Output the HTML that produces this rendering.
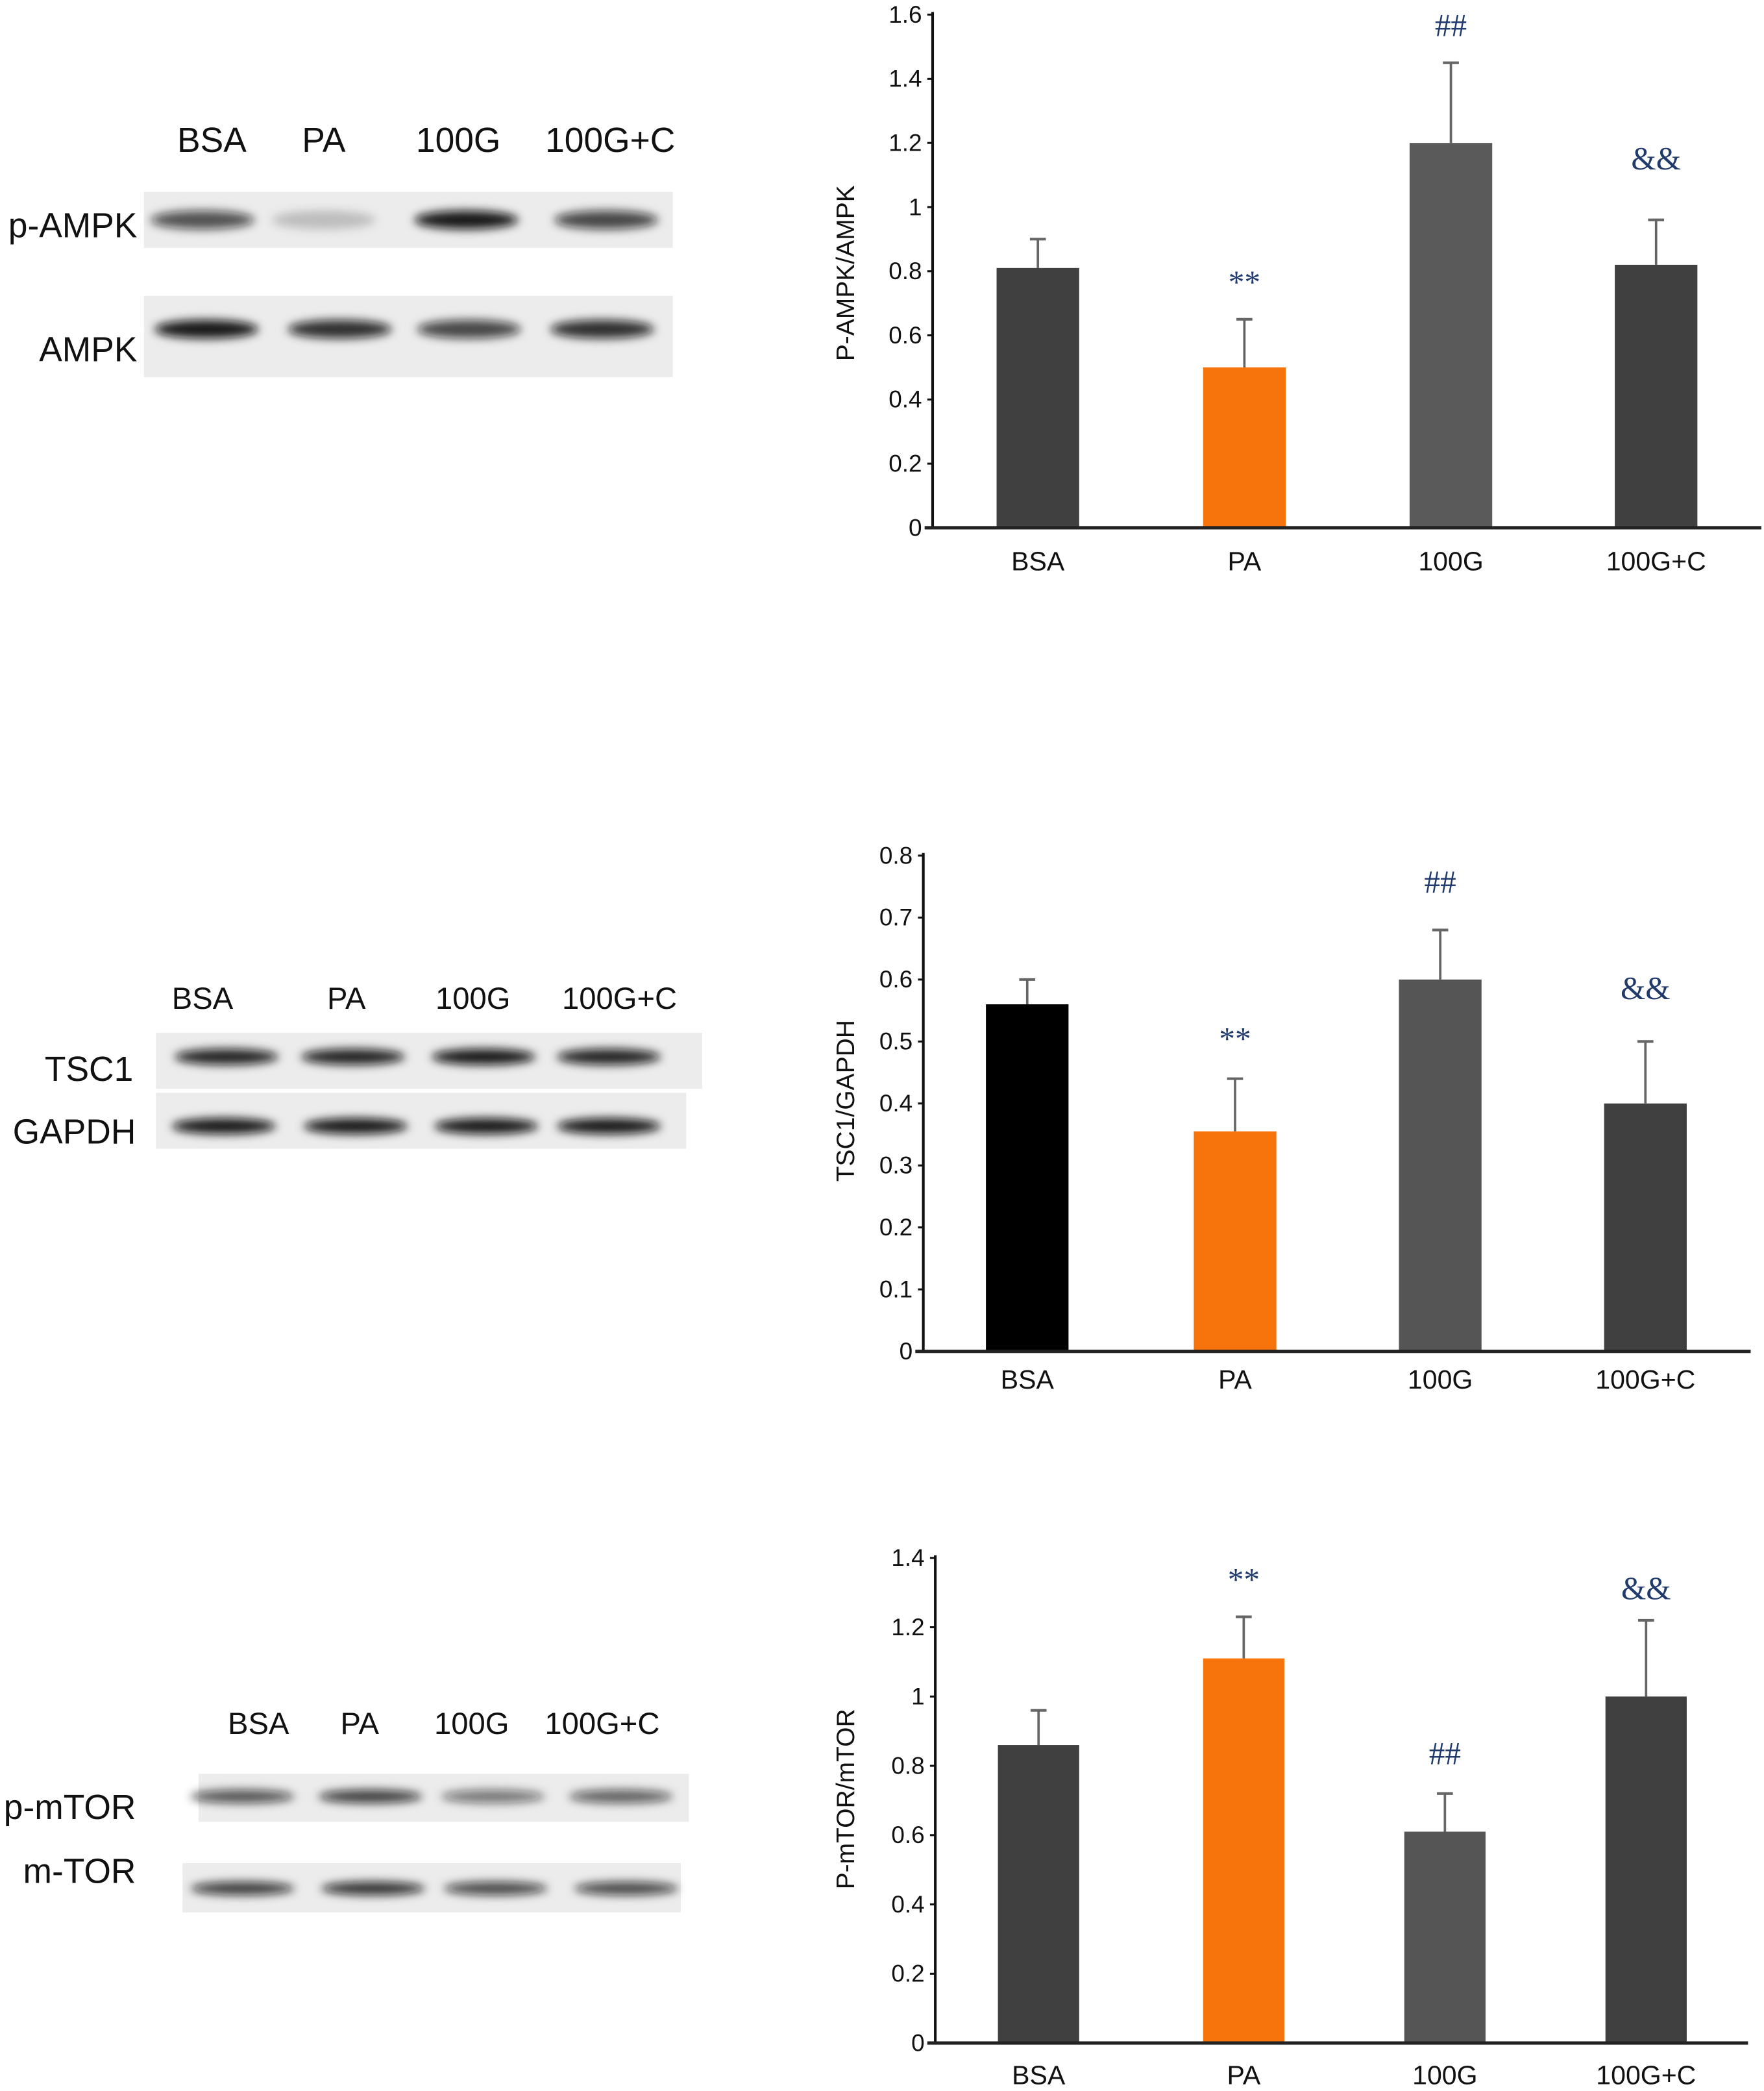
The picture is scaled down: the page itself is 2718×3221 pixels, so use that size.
<!DOCTYPE html>
<html><head><meta charset="utf-8"><style>
html,body{margin:0;padding:0;background:#fff;}
svg{display:block;}
text{font-family:"Liberation Sans",sans-serif;}
.tick{font-family:"Liberation Sans Narrow","Liberation Sans",sans-serif;font-size:18px;fill:#111;}
.cat{font-family:"Liberation Sans Narrow","Liberation Sans",sans-serif;font-size:20px;fill:#111;}
.ann{font-size:24px;fill:#1f3a6b;font-family:"Liberation Serif",serif;}
.blab{font-size:26px;fill:#111;}
</style></head><body>
<svg id="fig" width="2718" height="3221" viewBox="0 0 1324 1569" preserveAspectRatio="none" xmlns="http://www.w3.org/2000/svg">
<defs><filter id="blur" x="-20%" y="-100%" width="140%" height="300%"><feGaussianBlur stdDeviation="3.5"/></filter></defs>
<rect width="1324" height="1569" fill="#fff"/>
<g id="blots"></g>
<g id="charts"></g>
</svg>
<script>
const NS="http://www.w3.org/2000/svg";
const categories=["BSA","PA","100G","100G+C"];
const c1Values=[0.81,0.50,1.20,0.82];
const c1Errors=[0.90,0.65,1.45,0.96];
const c1Ticks=[0,0.2,0.4,0.6,0.8,1,1.2,1.4,1.6];
const c1Ann=["","**","##","&&"];
const c2Values=[0.56,0.355,0.60,0.40];
const c2Errors=[0.60,0.44,0.68,0.50];
const c2Ticks=[0,0.1,0.2,0.3,0.4,0.5,0.6,0.7,0.8];
const c2Ann=["","**","##","&&"];
const c3Values=[0.86,1.11,0.61,1.00];
const c3Errors=[0.96,1.23,0.72,1.22];
const c3Ticks=[0,0.2,0.4,0.6,0.8,1,1.2,1.4];
const c3Ann=["","**","##","&&"];

function el(tag,attrs,parent,txt){const e=document.createElementNS(NS,tag);for(const k in attrs)e.setAttribute(k,attrs[k]);if(txt!==undefined)e.textContent=txt;parent.appendChild(e);return e;}

function chart(cfg){
  const g=el('g',{},document.getElementById('charts'));
  
  
  const max=cfg.ticks[cfg.ticks.length-1];
  const y=v=>cfg.y0-(cfg.y0-cfg.yTop)*v/max;
  cfg.ticks.forEach(t=>{
    const tk=el('line',{x1:cfg.ax-4,x2:cfg.ax,y1:y(t),y2:y(t),stroke:'#111','stroke-width':1.5},g);
    
    
    const lb=el('text',{x:cfg.ax-8,y:y(t)+6,'text-anchor':'end',class:'tick'},g,String(t));
    
    
  });
  cfg.values.forEach((v,i)=>{
    const x=cfg.bx[i];
    const b=el('rect',{x:x,y:y(v),width:cfg.bw,height:cfg.y0-y(v),fill:cfg.colors[i]},g);
    
    
    const cx=x+cfg.bw/2;
    const e1=el('line',{x1:cx,x2:cx,y1:y(v),y2:y(cfg.errors[i]),stroke:'#666','stroke-width':1.8},g);
    
    
    el('line',{x1:cx-6,x2:cx+6,y1:y(cfg.errors[i]),y2:y(cfg.errors[i]),stroke:'#666','stroke-width':2},g);
    const cl=el('text',{x:cx,y:cfg.catY,'text-anchor':'middle',class:'cat'},g,categories[i]);
    
    
    if(cfg.ann[i]){
      const a=el('text',{x:cx,y:y(cfg.errors[i])-cfg.annGap[i],'text-anchor':'middle',class:'ann'},g,cfg.ann[i]);
      
      
    }
  });
  const ya=el('line',{x1:cfg.ax,x2:cfg.ax,y1:cfg.yTop-2,y2:cfg.y0,stroke:'#111','stroke-width':2},g);
  
  
  const xa=el('line',{x1:cfg.ax-6,x2:cfg.xEnd,y1:cfg.y0,y2:cfg.y0,stroke:'#222','stroke-width':2.5},g);
  
  
  const t=el('text',{x:0,y:0,'text-anchor':'middle',transform:`translate(${cfg.titleX},${cfg.titleY}) rotate(-90)`,'font-size':19,fill:'#111'},g,cfg.title);
  
  
}
chart({name:'p-ampk-chart',values:c1Values,errors:c1Errors,ticks:c1Ticks,ann:c1Ann,annGap:[0,20,20,38],
  ax:700,yTop:11,y0:396,xEnd:1322,bx:[748,903,1058,1212],bw:62,catY:428,
  colors:['#404040','#f7730c','#5a5a5a','#404040'],title:'P-AMPK/AMPK',titleX:641,titleY:205});
chart({name:'tsc1-chart',values:c2Values,errors:c2Errors,ticks:c2Ticks,ann:c2Ann,annGap:[0,22,28,32],
  ax:693,yTop:642,y0:1014,xEnd:1314,bx:[740,896,1050,1204],bw:62,catY:1042,
  colors:['#000000','#f7730c','#555555','#404040'],title:'TSC1/GAPDH',titleX:641,titleY:826});
chart({name:'p-mtor-chart',values:c3Values,errors:c3Errors,ticks:c3Ticks,ann:c3Ann,annGap:[0,20,22,16],
  ax:702,yTop:1169,y0:1533,xEnd:1312,bx:[749,903,1054,1205],bw:61,catY:1564,
  colors:['#404040','#f7730c','#555555','#404040'],title:'P-mTOR/mTOR',titleX:641,titleY:1350});

function blot(name,label,lx,ly,rx,ry,rw,rh,bands,bandY,op,bh){
  const g=el('g',{},document.getElementById('blots'));
  
  
  el('rect',{x:rx,y:ry,width:rw,height:rh,fill:'#ececec'},g);
  bands.forEach((cx,i)=>{
    el('ellipse',{cx:cx,cy:bandY,rx:39,ry:bh,fill:'#111','fill-opacity':op[i],filter:'url(#blur)'},g);
  });
  const t=el('text',{x:lx,y:ly,'text-anchor':'end',class:'blab'},g,label);
  
  
}
function lanes(xs,yy,size){
  const g=el('g',{},document.getElementById('blots'));
  
  
  categories.forEach((c,i)=>el('text',{x:xs[i],y:yy,'text-anchor':'middle','font-size':size,fill:'#111'},g,c));
}
lanes([159,243,344,458],114,26);
blot('p-ampk-blot','p-AMPK',103,178,108,144,397,42,[152,243,350,455],165,[0.7,0.2,0.95,0.75],7);
blot('ampk-blot','AMPK',103,271,108,222,397,61,[155,255,352,452],247,[0.95,0.85,0.75,0.85],7);
lanes([152,260,355,465],757,23);
blot('tsc1-blot','TSC1',100,811,117,775,410,42,[170,265,363,457],793,[0.9,0.9,0.95,0.9],6);
blot('gapdh-blot','GAPDH',102,858,117,820,398,42,[168,267,365,457],845,[0.95,0.95,0.95,0.95],6);
lanes([194,270,354,452],1301,23);
blot('p-mtor-blot','p-mTOR',102,1365,149,1331,368,36,[182,278,370,466],1348,[0.7,0.8,0.55,0.65],5);
blot('m-tor-blot','m-TOR',102,1413,137,1398,374,37,[182,280,372,470],1417,[0.8,0.85,0.75,0.75],5);
</script>
</body></html>
